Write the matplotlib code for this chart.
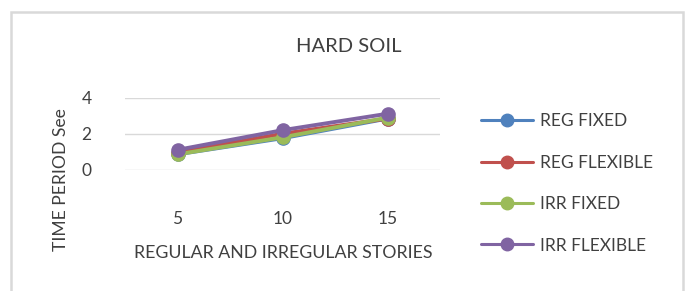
import matplotlib
matplotlib.use("Agg")
import matplotlib.pyplot as plt
from matplotlib.patches import Rectangle

categories = ["5", "10", "15"]
reg_fixed = [0.85, 1.75, 2.85]
reg_flexible = [0.95, 2.0, 2.85]
irr_fixed = [0.85, 1.8, 2.9]
irr_flexible = [1.1, 2.2, 3.12]
series_names = ["REG FIXED", "REG FLEXIBLE", "IRR FIXED", "IRR FLEXIBLE"]
series_values = [reg_fixed, reg_flexible, irr_fixed, irr_flexible]
colors = ["#4F81BD", "#C0504D", "#9BBB59", "#8064A2"]

plt.rcParams['font.family'] = ['Lato', 'DejaVu Sans']
W, H = 687, 291
fig = plt.figure(figsize=(W / 100, H / 100), dpi=100)

# chart border
fig.patches.append(Rectangle((11 / W, -0.1), (683 - 11) / W, 1.1 - 12 / H,
                             transform=fig.transFigure, fill=False,
                             edgecolor="#d9d9d9", linewidth=1.8))

ax = fig.add_axes([125 / W, 1 - 169.5 / H, 315 / W, 71.5 / H])
x = list(range(len(categories)))
handles = []
for name, vals, c in zip(series_names, series_values, colors):
    h, = ax.plot(x, vals, color=c, linewidth=2.8, marker="o", markersize=9.5,
                 label=name, solid_capstyle="round")
    handles.append(h)

ax.set_xlim(-0.5, 2.5)
ax.set_ylim(0, 4)
ax.set_yticks([0, 2, 4])
ax.set_xticks(x)
ax.set_xticklabels(categories)
ax.grid(axis="y", color="#d9d9d9", linewidth=1)
ax.set_axisbelow(True)
for s in ax.spines.values():
    s.set_visible(False)
ax.tick_params(length=0, labelsize=12.5, labelcolor="#404040")
ax.tick_params(axis="x", pad=30)
ax.tick_params(axis="y", pad=24)

fig.text(349 / W, 1 - 47 / H, "HARD SOIL", ha="center", va="center",
         fontsize=14.5, color="#404040")
fig.text(283 / W, 1 - 253 / H, "REGULAR AND IRREGULAR STORIES", ha="center",
         va="center", fontsize=12.8, color="#404040")
fig.text(61 / W, 1 - 180 / H, "TIME PERIOD See", ha="center", va="center",
         rotation=90, fontsize=12.6, color="#404040")

leg = fig.legend(handles=handles, loc="upper left",
                 bbox_to_anchor=(481 / W, 1 - 113.5 / H), frameon=False,
                 borderpad=0, borderaxespad=0,
                 fontsize=12.5, labelspacing=1.46, handlelength=3.0,
                 handletextpad=0.4, labelcolor="#404040")
for lh in leg.get_lines():
    lh.set_linewidth(2.2)
    lh.set_markersize(9)

fig.savefig("out.png", dpi=100)
